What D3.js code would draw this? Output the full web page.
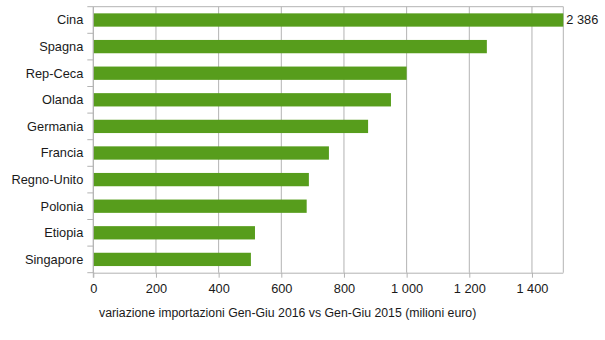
<!DOCTYPE html>
<html>
<head>
<meta charset="utf-8">
<script src="https://cdn.jsdelivr.net/npm/d3@7"></script>
<style>
  body { margin: 0; background: #fff; }
  svg { display: block; font-family: "Liberation Sans", Arial, sans-serif; }
</style>
</head>
<body>
<svg id="chart" width="605" height="340"></svg>
<script>
// Paesi e variazione delle importazioni (milioni di euro)
const countries = ["Cina", "Spagna", "Rep-Ceca", "Olanda", "Germania", "Francia", "Regno-Unito", "Polonia", "Etiopia", "Singapore"];
const values = [2386, 1256, 1000, 950, 877, 752, 688, 681, 516, 503];
const xTicks = [0, 200, 400, 600, 800, 1000, 1200, 1400];
const xTitle = "variazione importazioni Gen-Giu 2016 vs Gen-Giu 2015 (milioni euro)";

const svg = d3.select("#chart");
const plotL = 93.3, plotR = 563.3, plotT = 6.7, plotB = 272.7;
const gridColor = "#b3b3b3";
const textColor = "#1a1a1a";
const labelSize = 12.8;

const x = d3.scaleLinear().domain([0, 1500]).range([plotL, plotR]);
const y = d3.scaleBand().domain(countries).range([plotT, plotB]).paddingInner(0.5).paddingOuter(0.25);

const fmtLabel = v => d3.format(",")(v).replace(/,/g, " ");

// griglia verticale
svg.append("g").selectAll("line")
  .data(xTicks.concat([1500]))
  .join("line")
  .attr("x1", d => x(d)).attr("x2", d => x(d))
  .attr("y1", plotT).attr("y2", plotB)
  .attr("stroke", gridColor).attr("stroke-width", 1);

// cornice superiore
svg.append("line")
  .attr("x1", plotL).attr("x2", plotR).attr("y1", plotT).attr("y2", plotT)
  .attr("stroke", gridColor);

// barre (la Cina esce dalla scala e viene tagliata al bordo)
svg.append("g").selectAll("rect")
  .data(countries.map((c, i) => ({ c, v: values[i] })))
  .join("rect")
  .attr("x", x(0))
  .attr("y", d => y(d.c))
  .attr("width", d => Math.min(x(d.v), plotR) - x(0))
  .attr("height", y.bandwidth())
  .attr("fill", "#579d1c");

// etichetta del valore fuori scala
svg.append("text")
  .attr("x", plotR + 3)
  .attr("y", y("Cina") + y.bandwidth() / 2)
  .attr("dy", "0.35em")
  .attr("font-size", labelSize)
  .attr("fill", textColor)
  .text(fmtLabel(values[0]));

// asse x
const xAxis = d3.axisBottom(x).tickValues(xTicks).tickSize(5).tickPadding(6)
  .tickFormat(d => fmtLabel(d));
const gx = svg.append("g").attr("transform", `translate(0,${plotB})`).call(xAxis);
gx.select(".domain").attr("stroke", gridColor).attr("d", `M${plotL},0.5H${plotR}`);
gx.selectAll(".tick line").attr("stroke", gridColor);
gx.selectAll(".tick text").attr("font-size", labelSize).attr("fill", textColor)
  .attr("font-family", "Liberation Sans, Arial, sans-serif");

// asse y con tacche ai confini delle categorie
const step = y.step();
const boundaries = d3.range(countries.length + 1).map(i => plotT + i * step);
svg.append("g").selectAll("line")
  .data(boundaries)
  .join("line")
  .attr("x1", plotL - 6).attr("x2", plotL)
  .attr("y1", d => d).attr("y2", d => d)
  .attr("stroke", gridColor);
svg.append("line")
  .attr("x1", plotL).attr("x2", plotL).attr("y1", plotT).attr("y2", plotB + 5)
  .attr("stroke", gridColor);

svg.append("g").selectAll("text")
  .data(countries)
  .join("text")
  .attr("x", plotL - 10)
  .attr("y", d => y(d) + y.bandwidth() / 2)
  .attr("dy", "0.35em")
  .attr("text-anchor", "end")
  .attr("font-size", labelSize)
  .attr("fill", textColor)
  .text(d => d);

// titolo dell'asse x
svg.append("text")
  .attr("x", 99)
  .attr("y", 313)
  .attr("dy", "0.35em")
  .attr("font-size", 12.3)
  .attr("fill", textColor)
  .text(xTitle);
</script>
</body>
</html>
